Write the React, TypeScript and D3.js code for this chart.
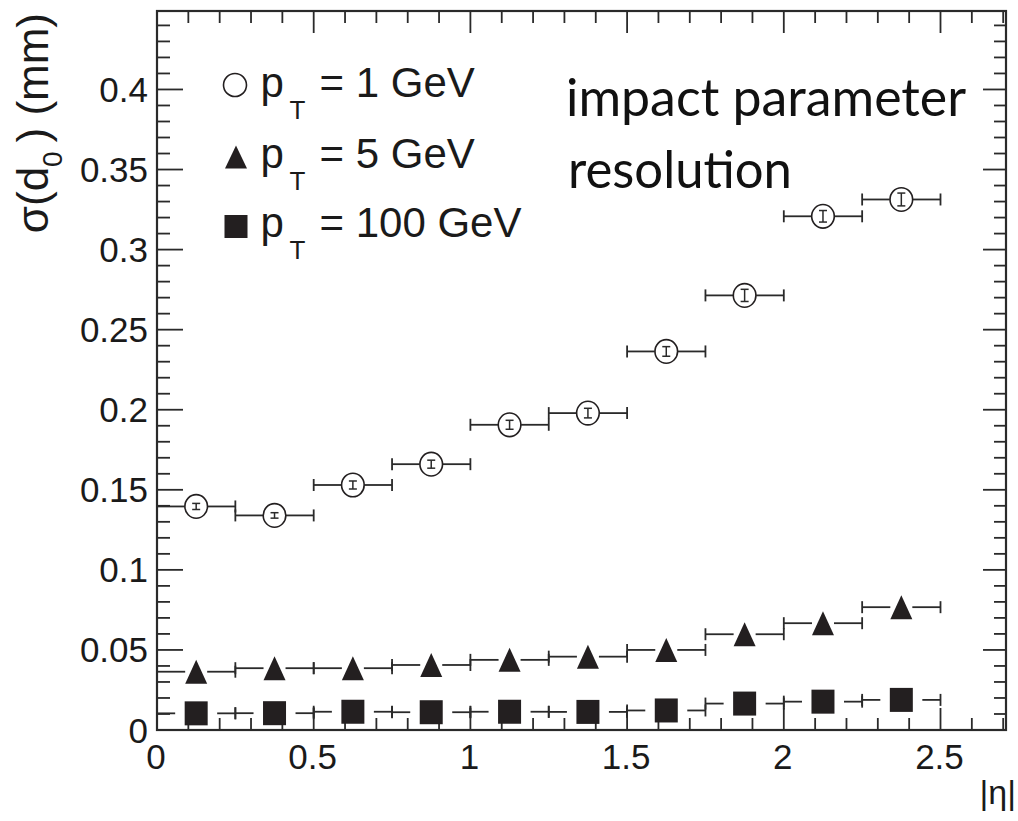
import React from 'react';
import * as d3 from 'd3';

// ---- data ----
const etaCenters = [0.125, 0.375, 0.625, 0.875, 1.125, 1.375, 1.625, 1.875, 2.125, 2.375];
const etaHalfWidth = 0.125;
const sigmaPt1 = [0.1396, 0.134, 0.153, 0.166, 0.1906, 0.1979, 0.2364, 0.2714, 0.3208, 0.3313];
const sigmaPt1Err = [0.0019, 0.0017, 0.0025, 0.0025, 0.0028, 0.003, 0.003, 0.0038, 0.0036, 0.004];
const sigmaPt5 = [0.0364, 0.0386, 0.0386, 0.0406, 0.0438, 0.0458, 0.05, 0.0598, 0.0667, 0.0767];
const sigmaPt100 = [0.0104, 0.0105, 0.0114, 0.0111, 0.0114, 0.0113, 0.0122, 0.0165, 0.0177, 0.0188];

const xTicks = [0, 0.5, 1, 1.5, 2, 2.5];
const xTickLabels = ['0', '0.5', '1', '1.5', '2', '2.5'];
const yTicks = [0, 0.05, 0.1, 0.15, 0.2, 0.25, 0.3, 0.35, 0.4];
const yTickLabels = ['0', '0.05', '0.1', '0.15', '0.2', '0.25', '0.3', '0.35', '0.4'];
const legendLabels = ['1 GeV', '5 GeV', '100 GeV'];

const W = 1018;
const H = 821;
const X0 = 157, X1 = 1006, Y0 = 730, Y1 = 11;
const INK = '#231f20';
const LINE = '#2a2a2a';
const SANS = '"Liberation Sans", Arial, Helvetica, sans-serif';

const x = d3.scaleLinear().domain([0, 2.709]).range([X0, X1]);
const y = d3.scaleLinear().domain([0, 0.449]).range([Y0, Y1]);

const minorX = d3.range(0, 27.01, 1).map((d) => d / 10);
const minorY = d3.range(0, 44.01, 1).map((d) => d / 100);

const CAP = 12;

function HErr({ c, v, gap }: { c: number; v: number; gap: number }) {
  const cx = x(c);
  const cy = y(v);
  const xl = x(c - etaHalfWidth);
  const xr = x(c + etaHalfWidth);
  return (
    <g stroke={LINE} strokeWidth={1.8}>
      <line x1={xl} x2={cx - gap} y1={cy} y2={cy} />
      <line x1={cx + gap} x2={xr} y1={cy} y2={cy} />
      <line x1={xl} x2={xl} y1={cy - CAP / 2} y2={cy + CAP / 2} />
      <line x1={xr} x2={xr} y1={cy - CAP / 2} y2={cy + CAP / 2} />
    </g>
  );
}

function Triangle({ cx, cy, w = 22, h = 24 }: { cx: number; cy: number; w?: number; h?: number }) {
  const p = d3.path();
  p.moveTo(cx, cy - h / 2);
  p.lineTo(cx + w / 2, cy + h / 2);
  p.lineTo(cx - w / 2, cy + h / 2);
  p.closePath();
  return <path d={p.toString()} fill={INK} />;
}

export default function App() {
  const xMinorLen = 12, xMajorLen = 22;
  const yMinorLen = 13, yMajorLen = 26;
  const isMajorX = (t: number) => Math.abs(t * 2 - Math.round(t * 2)) < 1e-6;
  const isMajorY = (t: number) => Math.abs(t * 20 - Math.round(t * 20)) < 1e-6;

  return (
    <svg
      width={W}
      height={H}
      viewBox={`0 0 ${W} ${H}`}
      style={{ position: 'absolute', left: 0, top: 0, background: '#fff' }}
      fontFamily={SANS}
    >
      <rect x={0} y={0} width={W} height={H} fill="#fff" />

      {/* ticks */}
      <g stroke={LINE} strokeWidth={1.8}>
        {minorX.map((t) => {
          const len = isMajorX(t) ? xMajorLen : xMinorLen;
          return (
            <g key={'xt' + t}>
              <line x1={x(t)} x2={x(t)} y1={Y0} y2={Y0 - len} />
              <line x1={x(t)} x2={x(t)} y1={Y1} y2={Y1 + len} />
            </g>
          );
        })}
        {minorY.map((t) => {
          const maj = isMajorY(t);
          return (
            <g key={'yt' + t}>
              <line x1={X0} x2={X0 + (maj ? yMajorLen : yMinorLen)} y1={y(t)} y2={y(t)} />
              <line x1={X1} x2={X1 - (maj ? 23 : 12)} y1={y(t)} y2={y(t)} />
            </g>
          );
        })}
      </g>

      {/* frame */}
      <rect x={X0} y={Y1} width={X1 - X0} height={Y0 - Y1} fill="none" stroke={LINE} strokeWidth={2.2} />

      {/* tick labels */}
      <g fill="#1a1a1a" fontSize={35}>
        {yTicks.map((t, i) => (
          <text key={'yl' + i} x={148} y={y(t) + 12.5} textAnchor="end">
            {yTickLabels[i]}
          </text>
        ))}
        {xTicks.map((t, i) => (
          <text key={'xl' + i} x={x(t) - 1} y={769} textAnchor="middle">
            {xTickLabels[i]}
          </text>
        ))}
      </g>

      {/* axis titles */}
      <text transform={`translate(48, 13) rotate(-90)`} textAnchor="end" fontSize={44} fill="#1a1a1a">
        <tspan>σ(d</tspan>
        <tspan fontSize={28} dy={14}>0</tspan>
        <tspan dy={-14}>{'\u2009) (mm)'}</tspan>
      </text>
      <text x={1016} y={804} textAnchor="end" fontSize={34} fill="#1a1a1a">
        |η|
      </text>

      {/* pT = 100 GeV squares */}
      {etaCenters.map((c, i) => (
        <g key={'s' + i}>
          <HErr c={c} v={sigmaPt100[i]} gap={21} />
          <rect x={x(c) - 11.5} y={y(sigmaPt100[i]) - 12} width={23} height={24} fill={INK} />
        </g>
      ))}

      {/* pT = 5 GeV triangles */}
      {etaCenters.map((c, i) => (
        <g key={'t' + i}>
          <HErr c={c} v={sigmaPt5[i]} gap={11} />
          <Triangle cx={x(c)} cy={y(sigmaPt5[i])} />
        </g>
      ))}

      {/* pT = 1 GeV open circles */}
      {etaCenters.map((c, i) => {
        const cx = x(c);
        const cy = y(sigmaPt1[i]);
        const yt = y(sigmaPt1[i] + sigmaPt1Err[i]);
        const yb = y(sigmaPt1[i] - sigmaPt1Err[i]);
        return (
          <g key={'c' + i}>
            <HErr c={c} v={sigmaPt1[i]} gap={11.5} />
            <ellipse cx={cx} cy={cy} rx={11.3} ry={11.8} fill="none" stroke={INK} strokeWidth={1.6} />
            <g stroke={LINE} strokeWidth={1.5}>
              <line x1={cx} x2={cx} y1={yt} y2={yb} />
              <line x1={cx - 4} x2={cx + 4} y1={yt} y2={yt} />
              <line x1={cx - 4} x2={cx + 4} y1={yb} y2={yb} />
            </g>
          </g>
        );
      })}

      {/* legend */}
      <g fill="#1a1a1a">
        <circle cx={235} cy={85} r={11.5} fill="none" stroke={INK} strokeWidth={1.6} />
        <Triangle cx={236} cy={157} w={22} h={23} />
        <rect x={224.5} y={215} width={23} height={23} fill={INK} />
        {legendLabels.map((lab, i) => {
          const base = [97, 167.5, 237][i];
          return (
            <g key={'lg' + i}>
              <text x={260.5} y={base} fontSize={42}>p</text>
              <text x={289.5} y={base + 22} fontSize={26}>T</text>
              <text x={319.5} y={base} fontSize={42}>{'= ' + lab}</text>
            </g>
          );
        })}
      </g>

      {/* annotation */}
      <g fill="#111" fontFamily='Lato, "Open Sans", sans-serif' fontSize={52}>
        <text x={566} y={116} textLength={400} lengthAdjust="spacingAndGlyphs">impact parameter</text>
        <text x={568} y={188} textLength={224} lengthAdjust="spacingAndGlyphs">resolution</text>
      </g>
    </svg>
  );
}
